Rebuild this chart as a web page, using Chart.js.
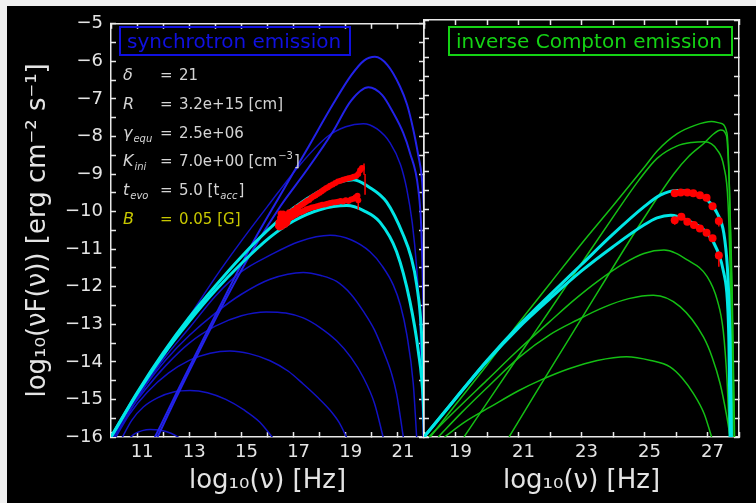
<!DOCTYPE html>
<html>
<head>
<meta charset="utf-8">
<script src="https://cdn.jsdelivr.net/npm/chart.js@4.4.1/dist/chart.umd.min.js"></script>
<style>
  html, body { margin: 0; padding: 0; background: #f0f0f0; }
  #frame { position: absolute; left: 7px; top: 6px; width: 749px; height: 497px; background: #000; }
  canvas { position: absolute; left: 0; top: 0; }
</style>
</head>
<body>
<div id="frame"></div>
<canvas id="syn" width="756" height="503"></canvas>
<canvas id="ic" width="756" height="503"></canvas>
<script>
// log10(nu) vs log10(nu F(nu)) curves, [x, y] pairs

// synchrotron spectra, left panel
const synA = [[10.6,-16.1],[10.9,-15.92],[11.2,-15.83],[11.5,-15.8],[11.9,-15.82],[12.3,-15.9],[12.7,-16.05]];
const synB = [[10.4,-16.05],[10.8,-15.55],[11.24,-15.2],[11.8,-14.95],[12.4,-14.8],[13.03,-14.76],[13.7,-14.82],[14.4,-15.0],[15.1,-15.28],[15.7,-15.6],[16.2,-16.02]];
const synC = [[10.15,-16.05],[10.7,-15.4],[11.4,-14.8],[12.2,-14.3],[13.0,-13.96],[13.8,-13.77],[14.56,-13.71],[15.3,-13.78],[16.1,-13.97],[16.8,-14.25],[17.37,-14.59],[17.9,-14.93],[18.4,-15.29],[18.75,-15.62],[19.04,-16.02]];
const synD = [[10.05,-16.05],[10.6,-15.4],[11.3,-14.75],[12.1,-14.1],[13.0,-13.5],[14.0,-13.05],[15.0,-12.77],[15.95,-12.67],[16.7,-12.7],[17.37,-12.83],[18.0,-13.08],[18.65,-13.44],[19.2,-13.88],[19.67,-14.41],[20.1,-15.1],[20.44,-16.02]];
const synE = [[10.02,-16.05],[10.6,-15.35],[11.3,-14.65],[12.1,-13.95],[13.0,-13.3],[14.0,-12.7],[15.0,-12.2],[16.1,-11.8],[17.37,-11.62],[18.05,-11.7],[18.65,-11.86],[19.2,-12.2],[19.67,-12.65],[20.1,-13.15],[20.44,-13.71],[20.75,-14.3],[20.95,-14.85],[21.21,-16.02]];
const synF = [[10.0,-16.02],[10.6,-15.32],[11.3,-14.6],[12.1,-13.85],[13.0,-13.1],[14.0,-12.25],[15.0,-11.6],[16.1,-11.16],[17.2,-10.8],[18.4,-10.63],[19.2,-10.75],[19.93,-11.07],[20.4,-11.45],[20.82,-11.95],[21.1,-12.5],[21.34,-13.27],[21.59,-14.59],[21.72,-16.02]];
const synG = [[10.1,-16.05],[11.0,-15.0],[12.0,-13.88],[12.4,-13.44],[13.0,-12.8],[14.0,-11.75],[15.0,-10.78],[16.0,-9.86],[17.25,-8.75],[18.3,-8.0],[19.0,-7.74],[19.67,-7.66],[20.2,-7.8],[20.7,-8.17],[21.1,-8.75],[21.34,-9.4],[21.55,-10.3],[21.72,-11.5],[21.85,-13.0],[21.97,-16.02]];
const synH = [[11.75,-16.05],[12.5,-14.95],[13.5,-13.55],[14.5,-12.2],[15.5,-10.95],[16.5,-9.85],[17.5,-8.9],[18.5,-7.88],[19.2,-7.05],[19.87,-6.69],[20.4,-6.9],[20.82,-7.37],[21.2,-7.9],[21.46,-8.43],[21.78,-9.4],[21.9,-10.5],[21.97,-12.3],[22.05,-16.0]];
const synK = [[11.65,-16.05],[12.5,-14.85],[13.5,-13.45],[14.5,-12.08],[15.5,-10.75],[16.5,-9.55],[17.5,-8.36],[18.52,-7.13],[19.2,-6.38],[19.7,-5.98],[20.12,-5.88],[20.6,-6.1],[21.08,-6.67],[21.35,-7.15],[21.59,-7.82],[21.78,-8.5],[21.91,-9.05],[22.05,-10.5]];
const synFitHigh = [[10.0,-16.0],[11.0,-14.82],[12.0,-13.76],[13.0,-12.82],[14.0,-11.98],[15.0,-11.2],[16.0,-10.5],[17.0,-9.9],[18.0,-9.45],[18.7,-9.22],[19.3,-9.15],[19.9,-9.35],[20.57,-9.75],[21.21,-10.63],[21.5,-11.2],[21.72,-11.95],[21.91,-13.27],[22.05,-16.0]];
const synFitLow = [[10.0,-16.0],[11.0,-14.85],[12.0,-13.82],[13.0,-12.92],[14.0,-12.1],[15.0,-11.38],[16.1,-10.68],[17.0,-10.25],[18.0,-9.95],[19.04,-9.84],[19.7,-9.98],[20.31,-10.28],[20.95,-11.07],[21.46,-12.39],[21.78,-13.71],[21.97,-15.03],[22.02,-16.0]];

// X-ray observations, two epochs
const xrayHigh = [[16.42,-10.28],[16.48,-10.16],[16.52,-10.24],[16.58,-10.12],[16.63,-10.2],[16.7,-10.08],[16.76,-10.14],[16.83,-10.02],[16.9,-10.06],[16.98,-9.98],[17.05,-9.96],[17.12,-9.9],[17.2,-9.88],[17.28,-9.83],[17.36,-9.8],[17.44,-9.76],[17.52,-9.72],[17.6,-9.69],[17.68,-9.64],[17.76,-9.6],[17.84,-9.57],[17.92,-9.53],[18.0,-9.5],[18.08,-9.46],[18.16,-9.42],[18.24,-9.38],[18.32,-9.35],[18.4,-9.31],[18.5,-9.28],[18.6,-9.24],[18.7,-9.2],[18.8,-9.18],[18.9,-9.15],[19.0,-9.13],[19.1,-9.11],[19.2,-9.1],[19.3,-9.07],[19.4,-9.05],[19.48,-9.0],[19.55,-8.9],[19.62,-8.84]];
const xrayLow = [[16.4,-10.38],[16.45,-10.42],[16.46,-10.3],[16.5,-10.05],[16.52,-10.34],[16.55,-10.4],[16.58,-10.26],[16.6,-10.05],[16.64,-10.3],[16.68,-10.35],[16.7,-10.22],[16.75,-10.3],[16.78,-10.24],[16.86,-10.16],[16.94,-10.14],[17.02,-10.1],[17.1,-10.08],[17.18,-10.04],[17.26,-10.02],[17.34,-10.0],[17.42,-9.97],[17.5,-9.94],[17.6,-9.92],[17.7,-9.89],[17.8,-9.88],[17.9,-9.86],[18.0,-9.84],[18.1,-9.82],[18.2,-9.81],[18.3,-9.79],[18.4,-9.77],[18.5,-9.76],[18.6,-9.75],[18.7,-9.74],[18.8,-9.72],[18.9,-9.73],[19.0,-9.7],[19.1,-9.72],[19.2,-9.68],[19.3,-9.66],[19.38,-9.62],[19.45,-9.58],[19.48,-9.7]];
// [x, low, high]
const xrayErr = [[19.7,-9.02,-8.72],[19.74,-9.55,-9.0],[19.48,-9.95,-9.62]];

// inverse Compton spectra, right panel
const icA = [[18.65,-16.0],[19.3,-15.6],[20.12,-15.2],[21.0,-14.78],[21.7,-14.5],[22.6,-14.2],[23.5,-13.98],[24.43,-13.88],[25.2,-13.98],[25.81,-14.15],[26.2,-14.45],[26.55,-14.85],[26.9,-15.4],[27.13,-16.0]];
const icB = [[18.45,-16.0],[19.2,-15.35],[20.0,-14.7],[21.05,-13.88],[22.0,-13.3],[22.85,-12.92],[23.7,-12.58],[24.5,-12.35],[25.28,-12.26],[26.13,-12.56],[26.87,-13.36],[27.15,-13.9],[27.4,-14.59],[27.6,-15.4],[27.72,-16.0]];
const icC = [[18.15,-16.0],[19.0,-15.3],[20.0,-14.5],[21.0,-13.7],[22.0,-12.95],[22.76,-12.39],[23.5,-11.9],[24.35,-11.42],[24.98,-11.16],[25.62,-11.07],[26.36,-11.33],[26.99,-11.77],[27.31,-12.39],[27.5,-13.2],[27.62,-14.5],[27.7,-16.0]];
const icD = [[19.27,-16.0],[20.0,-15.1],[21.0,-13.87],[22.0,-12.65],[23.0,-11.42],[24.0,-10.2],[24.8,-9.25],[25.4,-8.65],[26.04,-8.32],[26.5,-8.23],[26.91,-8.21],[27.31,-8.43],[27.52,-8.87],[27.65,-9.8],[27.73,-12.0],[27.8,-16.0]];
const icE = [[18.2,-16.0],[19.0,-15.15],[20.0,-14.1],[21.0,-13.0],[22.0,-11.95],[23.0,-10.9],[24.0,-9.9],[25.0,-8.88],[25.41,-8.45],[26.04,-8.0],[26.6,-7.78],[27.13,-7.68],[27.4,-7.72],[27.62,-7.99],[27.68,-9.0],[27.74,-11.0],[27.79,-13.0],[27.85,-16.0]];
const icF = [[20.7,-16.0],[21.5,-14.9],[22.5,-13.55],[23.5,-12.2],[24.3,-11.12],[24.98,-10.23],[25.94,-9.05],[26.4,-8.6],[26.89,-8.25],[27.2,-8.0],[27.42,-7.9],[27.6,-8.05],[27.7,-9.5],[27.78,-12.0],[27.86,-16.0]];
const icFitHigh = [[18.0,-16.0],[19.0,-14.98],[20.0,-13.98],[21.0,-13.07],[22.0,-12.25],[23.0,-11.45],[24.0,-10.65],[24.98,-9.93],[25.5,-9.62],[26.04,-9.5],[26.5,-9.55],[27.0,-9.75],[27.31,-10.1],[27.52,-10.63],[27.63,-11.51],[27.68,-12.39],[27.72,-13.5],[27.76,-16.0]];
const icFitLow = [[18.0,-16.0],[19.0,-14.99],[20.0,-14.0],[21.0,-13.12],[22.0,-12.35],[23.0,-11.62],[24.0,-10.98],[24.98,-10.41],[25.4,-10.22],[25.83,-10.15],[26.4,-10.3],[27.0,-10.63],[27.31,-11.07],[27.52,-11.68],[27.63,-12.39],[27.68,-13.5],[27.72,-16.0]];

// TeV observations
const tevHigh = [[25.96,-9.57],[26.15,-9.55],[26.36,-9.55],[26.55,-9.57],[26.76,-9.62],[26.97,-9.69],[27.16,-9.91],[27.36,-10.3]];
const tevLow = [[25.96,-10.28],[26.17,-10.19],[26.36,-10.32],[26.57,-10.41],[26.76,-10.5],[26.97,-10.61],[27.16,-10.76],[27.36,-11.21]];
const tevErr = [[27.36,-10.45,-10.19],[25.96,-10.4,-10.19],[27.36,-11.51,-11.11]];

// axes and labels
const synTickLabels = [11, 13, 15, 17, 19, 21];
const icTickLabels = [19, 21, 23, 25, 27];
const yTickLabels = [-5, -6, -7, -8, -9, -10, -11, -12, -13, -14, -15, -16];

const paramNames = ['δ', 'R', 'γ', 'K', 't', 'B'];
const paramSubs = ['', '', 'equ', 'ini', 'evo', ''];
// '^' marks a superscript, '_' an italic subscript
const paramValues = [['21'], ['3.2e+15 [cm]'], ['2.5e+06'], ['7.0e+00 [cm', '^−3', ']'], ['5.0 [t', '_acc', ']'], ['0.05 [G]']];

const FONT = 'DejaVu Sans';
const AXIS = '#e8e8e8';
const TEXT = '#e4e4e4';
const BLUE_DIM = '#1212c4';
const BLUE = '#2222e8';
const CYAN = '#00e6e6';
const GREEN = '#14bf14';
const RED = '#ff0000';

Chart.defaults.font.family = FONT;
Chart.defaults.color = TEXT;

const pts = a => a.map(p => ({x: p[0], y: p[1]}));

function curve(a, color, width) {
  return {data: pts(a), showLine: true, borderColor: color, borderWidth: width,
    pointRadius: 0, fill: false, cubicInterpolationMode: 'monotone'};
}
function marks(a, r) {
  return {data: pts(a), showLine: false, pointRadius: r, pointBackgroundColor: RED, pointBorderWidth: 0};
}
function bars(a) {
  const d = [];
  a.forEach(([x, lo, hi]) => d.push({x, y: lo}, {x, y: hi}, {x, y: null}));
  return {data: d, showLine: true, spanGaps: false, borderColor: RED, borderWidth: 1.5, pointRadius: 0};
}

function scales(lo, hi, labels, yWidth, yRightWidth, withY) {
  const inward = {drawOnChartArea: false, drawTicks: true, tickLength: -5, tickColor: AXIS, tickWidth: 1.5};
  const edge = {color: AXIS, width: 1.5};
  return {
    x: {type: 'linear', position: 'bottom', min: lo, max: hi, grid: inward, border: edge,
      ticks: {stepSize: 1, autoSkip: false, maxRotation: 0, color: TEXT, font: {size: 18}, padding: 10, labelOffset: 5,
        callback: v => labels.includes(v) ? String(v) : ''},
      title: {display: true, text: 'log₁₀(ν) [Hz]', color: TEXT, font: {size: 26}, padding: {top: 0, bottom: 6}},
      afterFit: s => { s.height = 66; }},
    xTop: {type: 'linear', axis: 'x', position: 'top', min: lo, max: hi, grid: inward, border: edge,
      ticks: {display: false, stepSize: 1, autoSkip: false},
      afterFit: s => { s.height = 20; }},
    y: {type: 'linear', position: 'left', min: -16, max: -5, grid: inward, border: edge,
      ticks: {display: withY, stepSize: 0.5, autoSkip: false, color: TEXT, font: {size: 18}, padding: 13,
        callback: v => yTickLabels.includes(v) ? '−' + Math.abs(v) : ''},
      title: {display: withY, text: 'log₁₀(νF(ν)) [erg cm⁻² s⁻¹]', color: TEXT, font: {size: 26}, padding: {top: 23, bottom: 0}},
      afterFit: s => { s.width = yWidth; }},
    yRight: {type: 'linear', axis: 'y', position: 'right', min: -16, max: -5, grid: inward, border: edge,
      ticks: {display: false, stepSize: 0.5, autoSkip: false},
      afterFit: s => { s.width = yRightWidth; }}
  };
}

function labelBox(ctx, text, x, y, w, h, color) {
  ctx.save();
  ctx.strokeStyle = color;
  ctx.lineWidth = 2;
  ctx.strokeRect(x, y, w, h);
  ctx.fillStyle = color;
  ctx.font = `20px ${FONT}`;
  ctx.textBaseline = 'alphabetic';
  ctx.textAlign = 'left';
  ctx.fillText(text, x + 7, y + 21);
  ctx.restore();
}

const synText = {
  id: 'synText',
  afterDraw(chart) {
    const ctx = chart.ctx;
    labelBox(ctx, 'synchrotron emission', 120, 27, 230, 28, '#1010e0');
    ctx.save();
    ctx.textAlign = 'left';
    ctx.textBaseline = 'alphabetic';
    paramNames.forEach((name, i) => {
      const yb = 80 + i * 28.8;
      ctx.fillStyle = i === 5 ? '#c8c800' : '#d4d4d4';
      ctx.font = `italic 16px ${FONT}`;
      ctx.fillText(name, 123, yb);
      if (paramSubs[i]) {
        const w = ctx.measureText(name).width;
        ctx.font = `italic 10px ${FONT}`;
        ctx.fillText(paramSubs[i], 124 + w, yb + 4);
      }
      ctx.font = `15px ${FONT}`;
      ctx.fillText('=', 160, yb);
      let x = 179;
      paramValues[i].forEach(seg => {
        let t = seg, dy = 0, f = `15px ${FONT}`;
        if (seg[0] === '^') { t = seg.slice(1); dy = -7; f = `10px ${FONT}`; }
        else if (seg[0] === '_') { t = seg.slice(1); dy = 4; f = `italic 10px ${FONT}`; }
        ctx.font = f;
        ctx.fillText(t, x, yb + dy);
        x += ctx.measureText(t).width + 1;
      });
    });
    ctx.restore();
  }
};

const icText = {
  id: 'icText',
  afterDraw(chart) {
    labelBox(chart.ctx, 'inverse Compton emission', 449, 27, 283, 28, '#14d214');
  }
};

const common = {
  responsive: false,
  animation: false,
  events: [],
  plugins: {legend: {display: false}, tooltip: {enabled: false}}
};

new Chart(document.getElementById('syn'), {
  type: 'scatter',
  data: {datasets: [
    bars(xrayErr),
    marks(xrayHigh, 3),
    marks(xrayLow, 3),
    curve(synFitHigh, CYAN, 3),
    curve(synFitLow, CYAN, 3),
    curve(synK, BLUE, 2),
    curve(synH, BLUE, 2),
    curve(synG, BLUE_DIM, 1.5),
    curve(synF, BLUE_DIM, 1.5),
    curve(synE, BLUE_DIM, 1.5),
    curve(synD, BLUE_DIM, 1.5),
    curve(synC, BLUE_DIM, 1.5),
    curve(synB, BLUE_DIM, 1.5),
    curve(synA, BLUE_DIM, 1.5)
  ]},
  options: {...common,
    layout: {padding: {left: 0, right: 330, top: 0, bottom: 0}},
    scales: scales(10, 22, synTickLabels, 111, 2, true)},
  plugins: [synText]
});

new Chart(document.getElementById('ic'), {
  type: 'scatter',
  data: {datasets: [
    bars(tevErr),
    marks(tevHigh, 4),
    marks(tevLow, 4),
    curve(icFitHigh, CYAN, 3),
    curve(icFitLow, CYAN, 3),
    curve(icF, GREEN, 1.5),
    curve(icE, GREEN, 1.5),
    curve(icD, GREEN, 1.5),
    curve(icC, GREEN, 1.5),
    curve(icB, GREEN, 1.5),
    curve(icA, GREEN, 1.5)
  ]},
  options: {...common,
    layout: {padding: {left: 0, right: 0, top: 0, bottom: 0}},
    scales: scales(18, 28, icTickLabels, 424, 17, false)},
  plugins: [icText]
});
</script>
</body>
</html>
